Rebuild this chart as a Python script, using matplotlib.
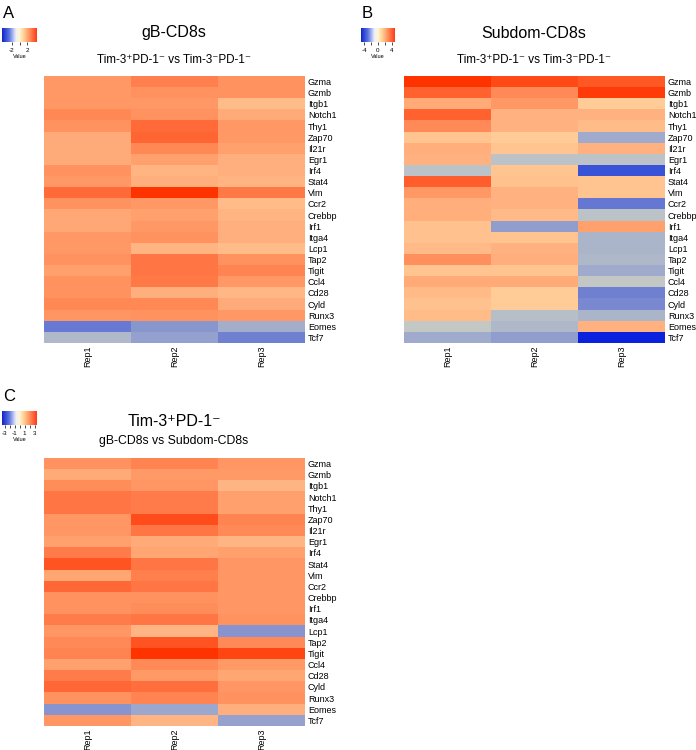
import numpy as np
import matplotlib
matplotlib.use("Agg")
import matplotlib.pyplot as plt
from matplotlib.colors import LinearSegmentedColormap, Normalize

plt.rcParams['font.family'] = ['Liberation Sans', 'DejaVu Sans']

genes = ['Gzma', 'Gzmb', 'Itgb1', 'Notch1', 'Thy1', 'Zap70', 'Il21r', 'Egr1',
         'Irf4', 'Stat4', 'Vim', 'Ccr2', 'Crebbp', 'Irf1', 'Itga4', 'Lcp1',
         'Tap2', 'Tigit', 'Ccl4', 'Cd28', 'Cyld', 'Runx3', 'Eomes', 'Tcf7']
reps = ['Rep1', 'Rep2', 'Rep3']

# A: gB-CD8s, Tim-3+PD-1- vs Tim-3-PD-1-
vals_a = [[2.3, 3.0, 2.5], [2.3, 2.5, 2.5], [2.3, 2.3, 1.4], [2.8, 2.5, 1.8],
          [2.5, 3.5, 2.3], [1.8, 3.6, 2.3], [1.8, 2.8, 2.1], [1.8, 2.1, 1.7],
          [2.5, 1.6, 1.7], [2.3, 1.7, 1.6], [3.5, 4.6, 3.2], [2.5, 2.3, 1.4],
          [1.9, 2.1, 1.6], [1.9, 2.3, 1.7], [2.3, 2.5, 1.7], [2.3, 1.6, 1.4],
          [2.5, 3.3, 2.5], [2.1, 3.3, 2.9], [2.5, 3.2, 2.3], [2.5, 1.7, 1.5],
          [2.8, 2.8, 1.8], [2.4, 2.5, 2.3], [-2.5, -1.8, -1.2], [-0.7, -1.6, -2.3]]

# B: Subdom-CD8s, Tim-3+PD-1- vs Tim-3-PD-1-
vals_b = [[5.0, 4.5, 4.2], [4.0, 3.0, 4.8], [2.0, 2.5, 1.1], [4.0, 1.8, 1.8],
          [3.0, 1.8, 1.5], [1.3, 1.1, -1.5], [1.9, 1.3, 1.8], [1.8, -0.3, -0.3],
          [-0.3, 1.3, -4.0], [4.1, 1.4, 1.3], [2.5, 1.8, 1.3], [1.9, 1.8, -2.8],
          [1.9, 1.6, -0.3], [1.4, -1.8, 2.3], [1.4, 1.3, -1.0], [1.6, 1.8, -1.0],
          [2.8, 1.9, -0.8], [1.3, 1.3, -1.5], [2.0, 2.0, -0.1], [1.6, 1.1, -2.5],
          [1.4, 1.1, -2.3], [1.5, -0.5, -1.0], [-0.1, -0.8, 1.8], [-1.5, -1.8, -5.0]]

# C: Tim-3+PD-1-, gB-CD8s vs Subdom-CD8s
vals_c = [[1.9, 2.2, 1.8], [1.4, 1.7, 1.7], [2.0, 1.8, 1.2], [2.5, 2.4, 1.6],
          [2.5, 2.4, 1.6], [1.8, 3.1, 2.2], [1.8, 2.5, 2.1], [1.6, 1.4, 1.2],
          [2.4, 1.5, 1.6], [3.0, 2.5, 1.8], [1.5, 2.3, 1.8], [2.7, 2.5, 1.8],
          [1.9, 1.9, 1.8], [1.9, 2.0, 1.8], [2.4, 2.5, 1.9], [1.8, 1.2, -1.4],
          [2.1, 3.0, 2.1], [2.2, 3.5, 3.2], [1.6, 2.1, 1.7], [2.4, 1.7, 1.5],
          [2.7, 2.6, 1.8], [1.9, 2.2, 1.9], [-1.4, -1.1, 1.3], [1.8, 1.2, -1.2]]

lim_a, lim_b, lim_c = 4.6, 5.0, 3.5
ticks_a = [-2, 0, 2]
ticks_b = [-4, -2, 0, 2, 4]
ticks_c = [-3, -2, -1, 0, 1, 2, 3]

# colours as they look in the cells
cell_cmap = LinearSegmentedColormap.from_list('cells', [
    (0.0, '#0a22dd'), (0.1, '#3a55d8'), (0.25, '#7080d2'), (0.35, '#a0abcc'),
    (0.475, '#bcc4c8'), (0.5, '#c8ccc4'), (0.6, '#ffd09a'), (0.675, '#ffb482'),
    (0.75, '#ff9966'), (0.85, '#ff7a48'), (1.0, '#ff3300')])
# colours as they look in the key
key_cmap = LinearSegmentedColormap.from_list('key', [
    (0.0, '#1024c8'), (0.2, '#5a72e0'), (0.4, '#eef0f8'), (0.5, '#fff6d0'),
    (0.6, '#ffd8a0'), (0.8, '#ff8c58'), (1.0, '#ff3a18')])

W, H = 696, 750
fig = plt.figure(figsize=(W / 100, H / 100), dpi=100)


def px_axes(x0, y0, x1, y1):
    return fig.add_axes([x0 / W, 1 - y1 / H, (x1 - x0) / W, (y1 - y0) / H])


def px_text(x, y, s, **kw):
    fig.text(x / W, 1 - y / H, s, **kw)


def heat(box, vals, lim):
    ax = px_axes(*box)
    ax.imshow(np.array(vals), cmap=cell_cmap, norm=Normalize(-lim, lim),
              aspect='auto', interpolation='nearest')
    ax.set_yticks(range(len(genes)))
    ax.set_yticklabels(genes, fontsize=6.5)
    ax.yaxis.tick_right()
    ax.set_xticks(range(len(reps)))
    ax.set_xticklabels(reps, fontsize=6.5, rotation=90)
    ax.tick_params(length=0, pad=2)
    for s in ax.spines.values():
        s.set_visible(False)
    return ax


def key(box, lim, ticks, labels):
    cax = px_axes(*box)
    sm = plt.cm.ScalarMappable(norm=Normalize(-lim, lim), cmap=key_cmap)
    cb = fig.colorbar(sm, cax=cax, orientation='horizontal')
    cb.outline.set_visible(False)
    cb.set_ticks(ticks)
    cb.set_ticklabels(labels)
    cax.tick_params(labelsize=4.5, length=2.5, width=0.5, pad=1.5)
    cax.set_xlabel('Value', fontsize=4, labelpad=1)


sub_ab = 'Tim-3\u207APD-1\u207B vs Tim-3\u207BPD-1\u207B'

# panel A
px_text(3, 6, 'A', fontsize=12, va='top', ha='left')
key((2, 28, 37, 42), lim_a, ticks_a, ['-2', '', '2'])
px_text(174, 33, 'gB-CD8s', fontsize=11.5, ha='center', va='center')
px_text(174, 60, sub_ab, fontsize=8.4, ha='center', va='center')
heat((44, 76, 305, 343), vals_a, lim_a)

# panel B
px_text(362, 6, 'B', fontsize=12, va='top', ha='left')
key((361, 28, 395, 42), lim_b, ticks_b, ['-4', '', '0', '', '4'])
px_text(534, 33, 'Subdom-CD8s', fontsize=11.5, ha='center', va='center')
px_text(534, 60, sub_ab, fontsize=8.4, ha='center', va='center')
heat((404, 76, 665, 343), vals_b, lim_b)

# panel C
px_text(3, 389, 'C', fontsize=12, va='top', ha='left')
key((2, 411, 37, 425), lim_c, ticks_c, ['-3', '', '-1', '', '1', '', '3'])
px_text(174, 422, 'Tim-3\u207APD-1\u207B', fontsize=11.5, ha='center', va='center')
px_text(174, 441, 'gB-CD8s vs Subdom-CD8s', fontsize=8.8, ha='center', va='center')
heat((44, 458, 305, 726), vals_c, lim_c)

fig.savefig('out.png', dpi=100)
